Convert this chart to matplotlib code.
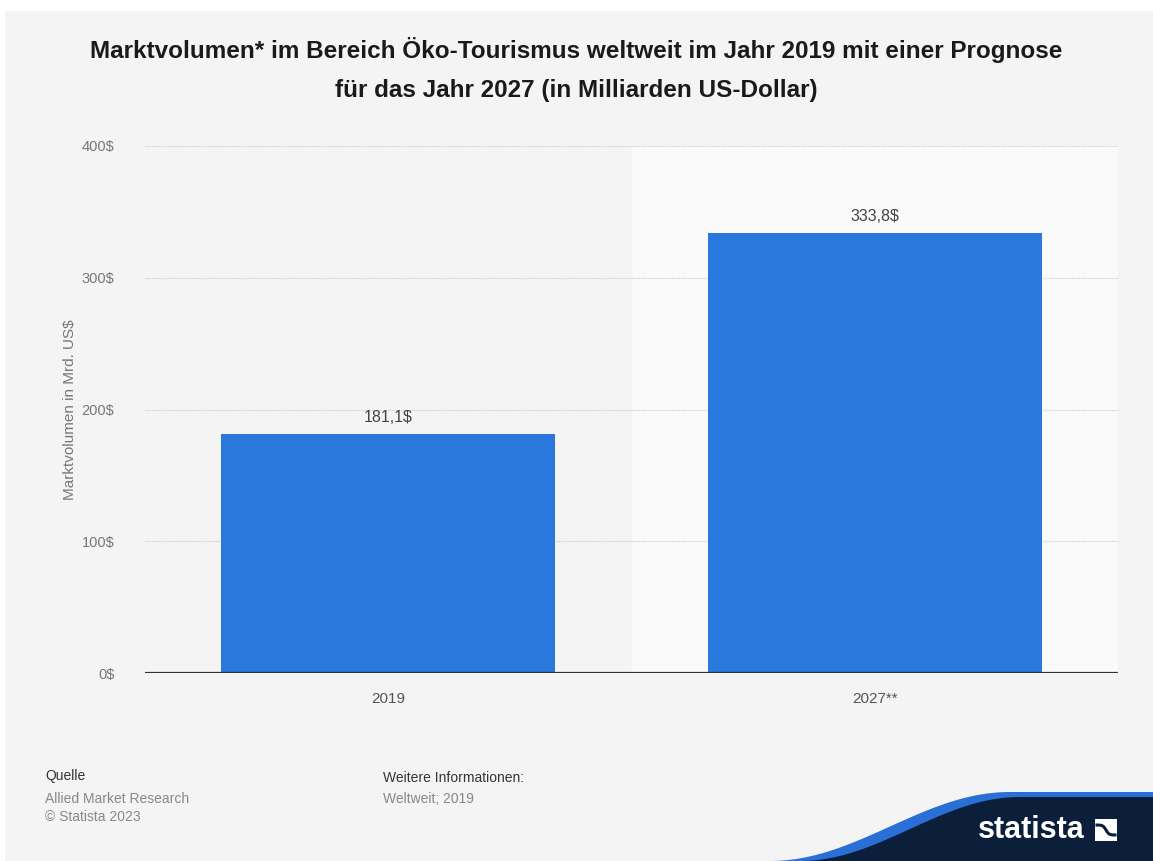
import numpy as np
import matplotlib
matplotlib.use('Agg')
import matplotlib.pyplot as plt
from matplotlib.patches import Rectangle, Polygon

plt.rcParams['font.family'] = ['Liberation Sans', 'DejaVu Sans']

years  = ['2019', '2027**']
values = [181.1, 333.8]
labels = ['181,1$', '333,8$']
yticks = [0, 100, 200, 300, 400]

W, H = 1153, 861
fig = plt.figure(figsize=(W / 100, H / 100), dpi=100)
fig.patch.set_facecolor('white')

# grey card behind everything
fig.patches.append(Rectangle((5 / W, 0), 1 - 5 / W, 1 - 11 / H, transform=fig.transFigure,
                             facecolor='#f4f4f4', edgecolor='none', zorder=-10))

fig.text(0.5, 1 - 50 / H, 'Marktvolumen* im Bereich Öko-Tourismus weltweit im Jahr 2019 mit einer Prognose',
         ha='center', va='center', fontsize=17.5, fontweight='bold', color='#1a1a1a')
fig.text(0.5, 1 - 90 / H, 'für das Jahr 2027 (in Milliarden US-Dollar)',
         ha='center', va='center', fontsize=17.5, fontweight='bold', color='#1a1a1a')

ax = fig.add_axes([145 / W, 1 - 673 / H, (1118 - 145) / W, (673 - 146) / H])
ax.set_facecolor('none')
ax.set_xlim(-0.5, 1.5)
ax.set_ylim(0, 400)

# forecast period shading
ax.axvspan(0.5, 1.5, color='#fafafa', zorder=0)

for y in yticks[1:]:
    ax.axhline(y, color='#cccccc', linestyle=(0, (1, 1)), linewidth=0.8, zorder=1)
ax.axhline(0, color='#333333', linewidth=1.6, zorder=4)

x = np.arange(len(years))
ax.bar(x, values, width=0.687, color='#2a77dd', zorder=3)
for xi, v, lab in zip(x, values, labels):
    ax.text(xi, v + 7, lab, ha='center', va='bottom', fontsize=11.5, color='#444444')

ax.set_xticks(x)
ax.set_xticklabels(years, fontsize=11, color='#555555')
ax.set_yticks(yticks)
ax.set_yticklabels([f'{t}$' for t in yticks], fontsize=10.5, color='#777777')
ax.tick_params(axis='both', length=0)
ax.tick_params(axis='x', pad=14)
ax.tick_params(axis='y', pad=22)
for s in ax.spines.values():
    s.set_visible(False)

fig.text(70 / W, 1 - 410 / H, 'Marktvolumen in Mrd. US$', rotation=90, ha='center', va='center',
         fontsize=11, color='#777777')

# footer
fig.text(45 / W, 1 - 776 / H, 'Quelle', fontsize=10, color='#333333', va='center')
fig.text(45 / W, 1 - 799 / H, 'Allied Market Research', fontsize=10, color='#888888', va='center')
fig.text(45 / W, 1 - 817 / H, '© Statista 2023', fontsize=10, color='#888888', va='center')
fig.text(383 / W, 1 - 778 / H, 'Weitere Informationen:', fontsize=10, color='#333333', va='center')
fig.text(383 / W, 1 - 799 / H, 'Weltweit; 2019', fontsize=10, color='#888888', va='center')

# statista logo wave
t = np.linspace(0, 1, 60)
def wave(x0, y0, x1, y1):
    s = 0.5 - 0.5 * np.cos(np.pi * t)
    return x0 + (x1 - x0) * t, y0 + (y1 - y0) * s

bx, by = wave(770, 861, 1010, 792)
blue = list(zip(bx / W, 1 - by / H)) + [(1, 1 - 792 / H), (1, 0)]
fig.patches.append(Polygon(blue, closed=True, transform=fig.transFigure,
                           facecolor='#2a6fd6', edgecolor='none', zorder=5))
dx, dy = wave(800, 861, 1020, 797)
dark = list(zip(dx / W, 1 - dy / H)) + [(1, 1 - 797 / H), (1, 0)]
fig.patches.append(Polygon(dark, closed=True, transform=fig.transFigure,
                           facecolor='#0c1f3a', edgecolor='none', zorder=6))
fig.text(1085 / W, 1 - 830 / H, 'statista', fontsize=22, fontweight='bold', color='white',
         ha='right', va='center', zorder=7)
fig.patches.append(Rectangle((1095 / W, 1 - 841 / H), 22 / W, 22 / H, transform=fig.transFigure,
                             facecolor='white', edgecolor='none', zorder=7))
# the S-shaped cut through the logo square
sx = np.linspace(1097, 1115, 30)
sy = 830 + 5 * np.tanh((sx - 1106) / 3)
fig.lines.append(plt.Line2D(sx / W, 1 - sy / H, transform=fig.transFigure,
                            color='#0c1f3a', linewidth=2.2, zorder=8))

fig.savefig('out.png', dpi=100)
